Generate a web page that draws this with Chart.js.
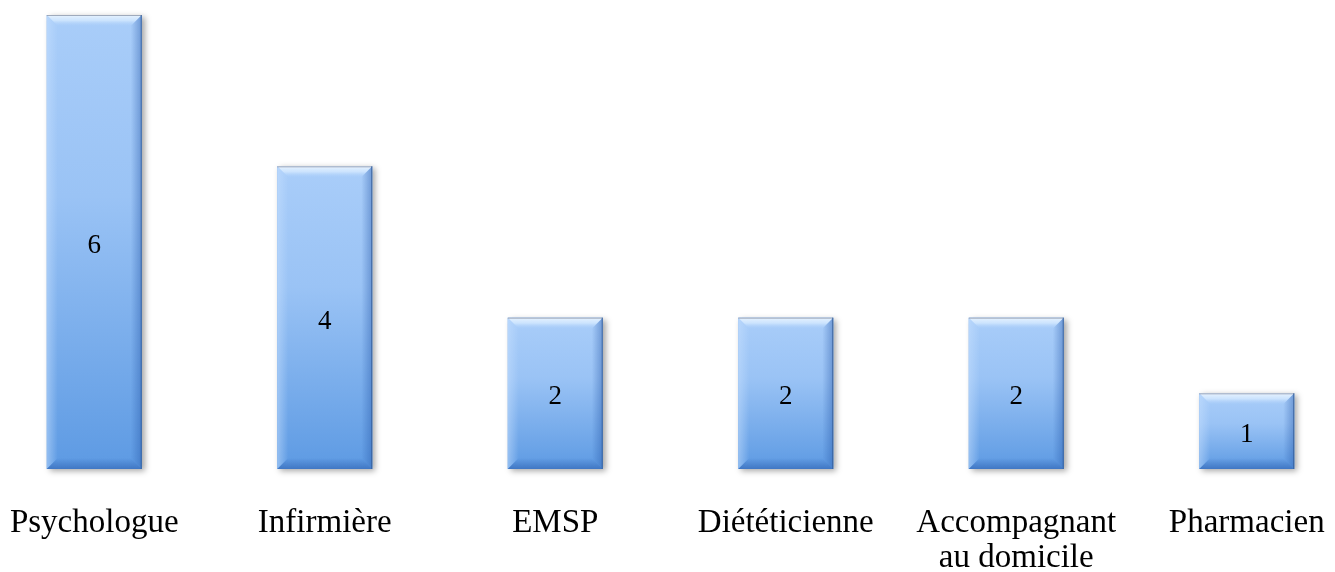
<!DOCTYPE html>
<html>
<head>
<meta charset="utf-8">
<script src="https://cdn.jsdelivr.net/npm/chart.js@4"></script>
<style>
html,body{margin:0;padding:0;background:#fff;overflow:hidden;width:1335px;height:572px;}
#wrap{position:absolute;left:-21px;top:0;width:1383px;height:572px;}
</style>
</head>
<body>
<div id="wrap"><canvas id="c" width="1383" height="572"></canvas></div>
<script>
const categories = [["Psychologue"], ["Infirmière"], ["EMSP"], ["Diététicienne"], ["Accompagnant", "au domicile"], ["Pharmacien"]];
const values = [6, 4, 2, 2, 2, 1];

function barGradient(ctx) {
  const chart = ctx.chart;
  if (!chart.chartArea || !chart.scales.y) return '#8ab6ee';
  const y = chart.scales.y;
  const top = y.getPixelForValue(ctx.raw);
  const bot = y.getPixelForValue(0);
  const g = chart.ctx.createLinearGradient(0, top, 0, bot);
  g.addColorStop(0, '#a9cdf9');
  g.addColorStop(0.4, '#9ac3f5');
  g.addColorStop(1, '#5d9ae3');
  return g;
}

const bevelPlugin = {
  id: 'bevel',
  beforeDatasetsDraw(chart) {
    const c = chart.ctx;
    chart.getDatasetMeta(0).data.forEach(el => {
      const w = el.width, l = el.x - w / 2, t = el.y, b = el.base;
      c.save();
      c.shadowColor = 'rgba(0,0,0,0.35)';
      c.shadowBlur = 6;
      c.shadowOffsetX = 3;
      c.shadowOffsetY = 2;
      c.fillStyle = '#7aa8e0';
      c.fillRect(l, t, w, b - t);
      c.restore();
    });
  },
  afterDatasetsDraw(chart) {
    const c = chart.ctx;
    const bv = 11;
    chart.getDatasetMeta(0).data.forEach((el, i) => {
      const w = el.width, l = el.x - w / 2, r = el.x + w / 2, t = el.y, b = el.base;
      c.save();
      let g = c.createLinearGradient(0, t, 0, t + bv);
      g.addColorStop(0, 'rgba(235,245,255,0.95)');
      g.addColorStop(0.5, 'rgba(215,235,255,0.75)');
      g.addColorStop(1, 'rgba(180,212,250,0.0)');
      c.fillStyle = g;
      c.beginPath();
      c.moveTo(l, t); c.lineTo(r, t); c.lineTo(r - bv, t + bv); c.lineTo(l + bv, t + bv); c.closePath();
      c.fill();
      g = c.createLinearGradient(l, 0, l + bv, 0);
      g.addColorStop(0, 'rgba(200,225,255,0.5)');
      g.addColorStop(1, 'rgba(200,225,255,0)');
      c.fillStyle = g;
      c.beginPath();
      c.moveTo(l, t); c.lineTo(l + bv, t + bv); c.lineTo(l + bv, b - bv); c.lineTo(l, b); c.closePath();
      c.fill();
      g = c.createLinearGradient(r - bv, 0, r, 0);
      g.addColorStop(0, 'rgba(40,90,170,0)');
      g.addColorStop(1, 'rgba(40,90,170,0.45)');
      c.fillStyle = g;
      c.beginPath();
      c.moveTo(r, t); c.lineTo(r - bv, t + bv); c.lineTo(r - bv, b - bv); c.lineTo(r, b); c.closePath();
      c.fill();
      g = c.createLinearGradient(0, b - bv, 0, b);
      g.addColorStop(0, 'rgba(40,90,170,0)');
      g.addColorStop(1, 'rgba(40,90,170,0.55)');
      c.fillStyle = g;
      c.beginPath();
      c.moveTo(l, b); c.lineTo(r, b); c.lineTo(r - bv, b - bv); c.lineTo(l + bv, b - bv); c.closePath();
      c.fill();
      c.strokeStyle = 'rgba(130,140,160,0.7)';
      c.lineWidth = 1;
      c.beginPath(); c.moveTo(l, t + 0.5); c.lineTo(r, t + 0.5); c.stroke();
      c.strokeStyle = 'rgba(50,90,150,0.8)';
      c.beginPath(); c.moveTo(r - 0.5, t); c.lineTo(r - 0.5, b); c.stroke();
      c.fillStyle = '#000';
      c.font = '27px "Liberation Serif"';
      c.textAlign = 'center';
      c.textBaseline = 'middle';
      c.fillText(String(values[i]), el.x, (t + b) / 2 + 4);
      c.restore();
    });
  }
};

new Chart(document.getElementById('c'), {
  type: 'bar',
  data: {
    labels: categories,
    datasets: [{
      data: values,
      backgroundColor: barGradient,
      borderWidth: 0,
      categoryPercentage: 1.0,
      barPercentage: 0.412
    }]
  },
  options: {
    responsive: false,
    animation: false,
    devicePixelRatio: 1,
    layout: { padding: { top: 15, left: 0, right: 0, bottom: 0 } },
    plugins: { legend: { display: false }, tooltip: { enabled: false } },
    scales: {
      y: { display: false, min: 0, max: 6 },
      x: {
        grid: { display: false, drawTicks: false },
        border: { display: false },
        afterFit(scale) { scale.height = 103; scale.paddingLeft = 0; scale.paddingRight = 0; },
        ticks: {
          padding: 37,
          color: '#000',
          maxRotation: 0,
          autoSkip: false,
          font: { family: '"Liberation Serif"', size: 33, lineHeight: 1.06 }
        }
      }
    }
  },
  plugins: [bevelPlugin]
});
</script>
</body>
</html>
